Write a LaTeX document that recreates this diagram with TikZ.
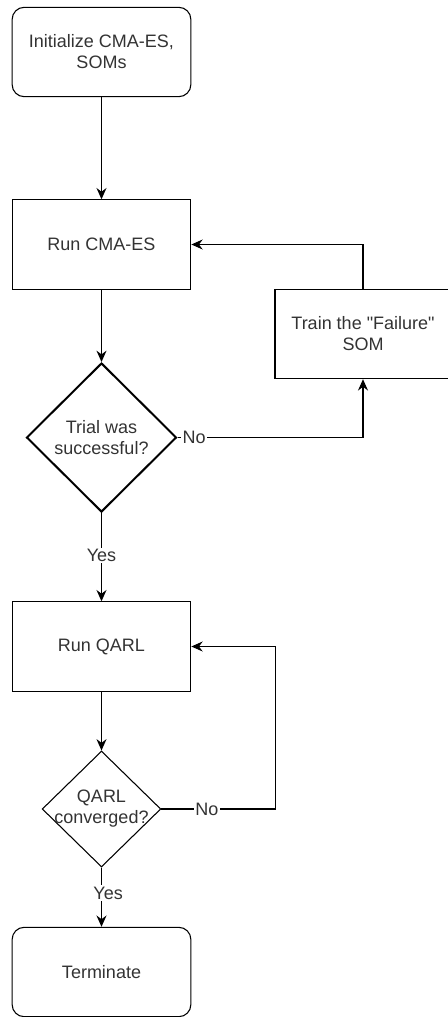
\documentclass[tikz,border=0pt]{standalone}
\usepackage{fontspec}
\setmainfont{Liberation Sans}[Ligatures=TeXOff]
\usetikzlibrary{arrows.meta,positioning,shapes.geometric}
\definecolor{FlowText}{HTML}{333333}

\begin{document}
\begin{tikzpicture}[x=.75pt,y=-.75pt,
  every node/.style={font=\fontsize{13.5}{15.75}\selectfont,text=FlowText,align=center},
  procbox/.style={draw,line width=.8pt,minimum width=134pt,minimum height=67pt,inner sep=0pt},
  roundbox/.style={procbox,rounded corners=9pt},
  decision/.style={draw,diamond,aspect=1,inner sep=0pt,line width=.8pt},
  flow/.style={line width=.8pt,-{Stealth[length=8.5pt,width=7.5pt,inset=2.8pt]}},
  lbl/.style={fill=white,inner sep=1pt}]
\useasboundingbox (0,0) rectangle (447,1017);

% steps
\node[roundbox] (init) at (101.5,52) {Initialize CMA-ES,\\SOMs};
\node[procbox] (runcma) at (101.5,244.5) {Run CMA-ES};
\node[procbox,minimum width=132pt] (train) at (363,334) {Train the "Failure"\\SOM};
\node[decision,line width=1.5pt,minimum width=112.5pt,minimum height=111.75pt,
  label=center:{Trial was\\successful?}] (trial) at (101.5,437.5) {};
\node[procbox] (qarl) at (101.5,646.5) {Run QARL};
\node[decision,minimum width=89pt,minimum height=87pt,
  label=center:{QARL\\converged?}] (conv) at (101.5,809) {};
\node[roundbox] (term) at (101.5,972) {Terminate};

% connectors
\draw[flow] (init) -- (runcma);
\draw[flow] (runcma) -- (trial);
\draw[flow] (trial) -- node[lbl,pos=.48] {Yes} (qarl);
\draw[flow] (qarl) -- (conv);
\draw[flow] (conv) -- node[lbl,pos=.43,xshift=5pt] {Yes} (term);
\draw[flow] (trial.east) -| node[lbl,pos=.045] {No} (train.south);
\draw[flow] (train.north) |- (runcma.east);
\draw[flow] (conv.east) -- node[lbl,pos=.4] {No} ++(114,0) |- (qarl.east);
\end{tikzpicture}
\end{document}
